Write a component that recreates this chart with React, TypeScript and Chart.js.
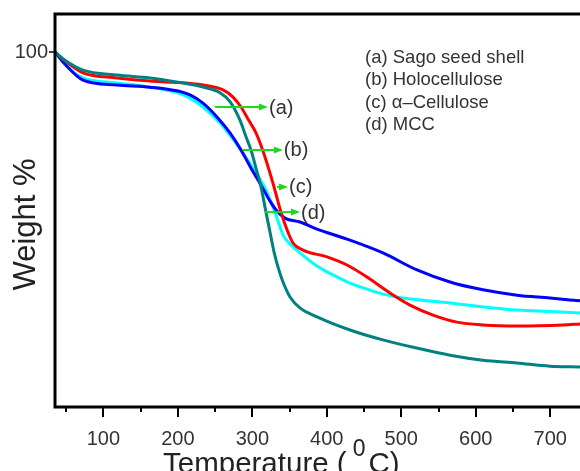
import React, { useEffect, useRef } from 'react';
import { Chart, registerables } from 'chart.js';

Chart.register(...registerables);

// Thermogravimetric curves: temperature (°C) vs. remaining weight (%)
const sagoTemp = [35, 48.4, 72.6, 118.3, 162.6, 193.5, 233.7, 260.6, 274, 284.8, 294.2, 304.9, 314.3, 322.4, 329.1, 338.5, 346.6, 354.6, 368, 400.2, 427.1, 454, 484.8, 511.7, 542.6, 574.8, 609.7, 655.4, 717.2, 740];
const sagoWeight = [100, 97.5, 94.1, 92.7, 91.8, 91.5, 90.7, 89.3, 87.3, 84.5, 81.1, 77.2, 72.1, 66.8, 62.0, 54.9, 49.9, 46.2, 44.2, 42.3, 40.0, 36.6, 32.1, 28.7, 25.9, 23.9, 23.1, 22.8, 23.1, 23.4];

const holoTemp = [35, 48.4, 72.6, 118.3, 162.6, 200.2, 216.3, 233.7, 252.5, 270, 284.8, 299.5, 313, 323.7, 333.1, 343.8, 364, 386.8, 408.3, 431.1, 475.4, 521.1, 565.4, 609.7, 655.4, 699.7, 740];
const holoWeight = [100, 96.6, 92.1, 90.7, 90.1, 89.0, 87.9, 85.6, 81.7, 77.2, 72.4, 66.8, 62.0, 58.0, 55.2, 53.2, 52.1, 50.1, 48.6, 47.0, 43.4, 38.6, 35.2, 33.0, 31.5, 30.7, 29.9];

const alphaTemp = [35, 48.4, 72.6, 118.3, 162.6, 200.2, 216.3, 233.7, 256.6, 272.7, 287.5, 302.2, 318.3, 330.4, 341.2, 350.6, 364, 386.8, 408.3, 431.1, 454, 475.4, 502.3, 565.4, 609.7, 655.4, 699.7, 740];
const alphaWeight = [100, 96.4, 92.7, 91.3, 90.1, 88.5, 87.0, 84.5, 80.0, 75.8, 71.5, 66.8, 61.1, 54.9, 48.5, 45.9, 43.4, 39.7, 37.2, 34.9, 33.2, 31.8, 30.7, 29.3, 28.2, 27.3, 26.9, 26.5];

const mccTemp = [35, 48.4, 72.6, 118.3, 162.6, 200.2, 233.7, 256.6, 270, 283.4, 291.5, 298.2, 304.9, 311.6, 318.3, 323.7, 329.1, 334.5, 341.2, 350.6, 364, 386.8, 431.1, 475.4, 521.1, 565.4, 609.7, 655.4, 699.7, 740];
const mccWeight = [100, 97.7, 94.9, 93.5, 92.7, 91.5, 90.1, 88.5, 86.0, 80.8, 76.1, 72.4, 67.3, 62.0, 54.9, 49.3, 43.7, 39.4, 35.2, 31.0, 27.9, 25.4, 21.7, 18.9, 16.6, 14.6, 13.2, 12.4, 11.5, 11.3];

const legendLines = ['(a) Sago seed shell', '(b) Holocellulose', '(c) \u03B1\u2013Cellulose', '(d) MCC'];

// Curve markers: label, arrow start/end temperature, arrow weight level
const markerLabels = ['(a)', '(b)', '(c)', '(d)'];
const markerFromT = [250, 287, 333, 317];
const markerToT = [321, 341, 348, 364];
const markerW = [84.5, 72.4, 62.0, 54.9];

const xMajorTicks = [100, 200, 300, 400, 500, 600, 700];
const xMinorTicks = [50, 150, 250, 350, 450, 550, 650];
const yTicks = [100];

const X_MIN = 35;
const X_MAX = 740;
const Y_MIN = 0;
const Y_MAX = 110.7;

const FONT = '"Liberation Sans", Arial, Helvetica, sans-serif';

const toPoints = (xs: number[], ys: number[]) => xs.map((x, i) => ({ x, y: ys[i] }));

const decorations = {
  id: 'tgaDecorations',
  afterDatasetsDraw(chart: any) {
    const { ctx, chartArea: a, scales } = chart;
    const xs = scales.x;
    const ys = scales.y;
    ctx.save();

    // Frame (top, left, bottom)
    ctx.strokeStyle = '#000';
    ctx.lineWidth = 3;
    ctx.lineCap = 'square';
    ctx.beginPath();
    ctx.moveTo(a.right + 4, a.top);
    ctx.lineTo(a.left, a.top);
    ctx.lineTo(a.left, a.bottom);
    ctx.lineTo(a.right + 4, a.bottom);
    ctx.stroke();

    // X ticks
    ctx.lineCap = 'butt';
    ctx.lineWidth = 2;
    ctx.beginPath();
    xMajorTicks.forEach((v) => {
      const px = Math.round(xs.getPixelForValue(v));
      ctx.moveTo(px, a.bottom);
      ctx.lineTo(px, a.bottom + 10);
    });
    xMinorTicks.forEach((v) => {
      const px = Math.round(xs.getPixelForValue(v));
      ctx.moveTo(px, a.bottom);
      ctx.lineTo(px, a.bottom + 5);
    });
    ctx.stroke();

    // Y ticks
    ctx.lineWidth = 1.5;
    ctx.beginPath();
    yTicks.forEach((v) => {
      const py = ys.getPixelForValue(v);
      ctx.moveTo(a.left - 6, py);
      ctx.lineTo(a.left, py);
    });
    ctx.stroke();

    // Tick labels
    ctx.fillStyle = '#333';
    ctx.font = `20px ${FONT}`;
    ctx.textBaseline = 'alphabetic';
    ctx.textAlign = 'center';
    xMajorTicks.forEach((v) => {
      ctx.fillText(String(v), xs.getPixelForValue(v), a.bottom + 38);
    });
    ctx.textAlign = 'right';
    yTicks.forEach((v) => {
      ctx.fillText(String(v), a.left - 7, ys.getPixelForValue(v) + 6.5);
    });

    // X axis title with superscript
    ctx.fillStyle = '#222';
    ctx.textAlign = 'left';
    const mainFont = `29.5px ${FONT}`;
    const supFont = `23px ${FONT}`;
    let tx = a.left + 108;
    const base = a.bottom + 66;
    ctx.font = mainFont;
    ctx.fillText('Temperature (', tx, base);
    tx += ctx.measureText('Temperature (').width + 6;
    ctx.font = supFont;
    ctx.fillText('0', tx, base - 17);
    tx += ctx.measureText('0').width + 3;
    ctx.font = mainFont;
    ctx.fillText('C)', tx, base);

    // Y axis title
    ctx.save();
    ctx.translate(35, (a.top + a.bottom) / 2 + 14);
    ctx.rotate(-Math.PI / 2);
    ctx.textAlign = 'center';
    ctx.font = `31px ${FONT}`;
    ctx.fillText('Weight %', 0, 0);
    ctx.restore();

    // Legend text
    ctx.fillStyle = '#333';
    ctx.font = `18.5px ${FONT}`;
    ctx.textAlign = 'left';
    legendLines.forEach((t, i) => {
      ctx.fillText(t, a.left + 310, a.top + 49 + i * 22.4);
    });

    // Arrow markers
    ctx.strokeStyle = '#1ED81E';
    ctx.fillStyle = '#1ED81E';
    ctx.lineWidth = 2;
    markerLabels.forEach((_, i) => {
      const x1 = xs.getPixelForValue(markerFromT[i]);
      const x2 = xs.getPixelForValue(markerToT[i]);
      const py = ys.getPixelForValue(markerW[i]);
      ctx.beginPath();
      ctx.moveTo(x1, py);
      ctx.lineTo(x2 - 4, py);
      ctx.stroke();
      ctx.beginPath();
      ctx.moveTo(x2, py);
      ctx.lineTo(x2 - 9, py - 3.5);
      ctx.lineTo(x2 - 9, py + 3.5);
      ctx.closePath();
      ctx.fill();
    });
    ctx.fillStyle = '#333';
    ctx.font = `20px ${FONT}`;
    markerLabels.forEach((t, i) => {
      const x2 = xs.getPixelForValue(markerToT[i]);
      const py = ys.getPixelForValue(markerW[i]);
      ctx.fillText(t, x2 + 1, py + 6.5);
    });

    ctx.restore();
  },
};

export default function App() {
  const ref = useRef<HTMLCanvasElement>(null);

  useEffect(() => {
    if (!ref.current) return;
    const chart = new Chart(ref.current, {
      type: 'line',
      data: {
        datasets: [
          {
            label: 'MCC',
            data: toPoints(mccTemp, mccWeight),
            borderColor: '#008080',
            order: 0,
          },
          {
            label: 'Sago seed shell',
            data: toPoints(sagoTemp, sagoWeight),
            borderColor: '#FF0000',
            order: 1,
          },
          {
            label: 'Holocellulose',
            data: toPoints(holoTemp, holoWeight),
            borderColor: '#0000FF',
            order: 2,
          },
          {
            label: '\u03B1-Cellulose',
            data: toPoints(alphaTemp, alphaWeight),
            borderColor: '#00FFFF',
            order: 3,
          },
        ],
      },
      options: {
        responsive: false,
        animation: false,
        events: [],
        layout: { padding: { left: 55, top: 14, right: 0, bottom: 64 } },
        plugins: {
          legend: { display: false },
          tooltip: { enabled: false },
        },
        elements: {
          point: { radius: 0 },
          line: { borderWidth: 3, cubicInterpolationMode: 'monotone', fill: false },
        },
        scales: {
          x: { type: 'linear', min: X_MIN, max: X_MAX, display: false },
          y: { type: 'linear', min: Y_MIN, max: Y_MAX, display: false },
        },
      },
      plugins: [decorations],
    });
    return () => chart.destroy();
  }, []);

  return (
    <div style={{ position: 'fixed', left: 0, top: 0, width: 580, height: 471, background: '#fff' }}>
      <canvas ref={ref} width={580} height={471} style={{ display: 'block' }} />
    </div>
  );
}
